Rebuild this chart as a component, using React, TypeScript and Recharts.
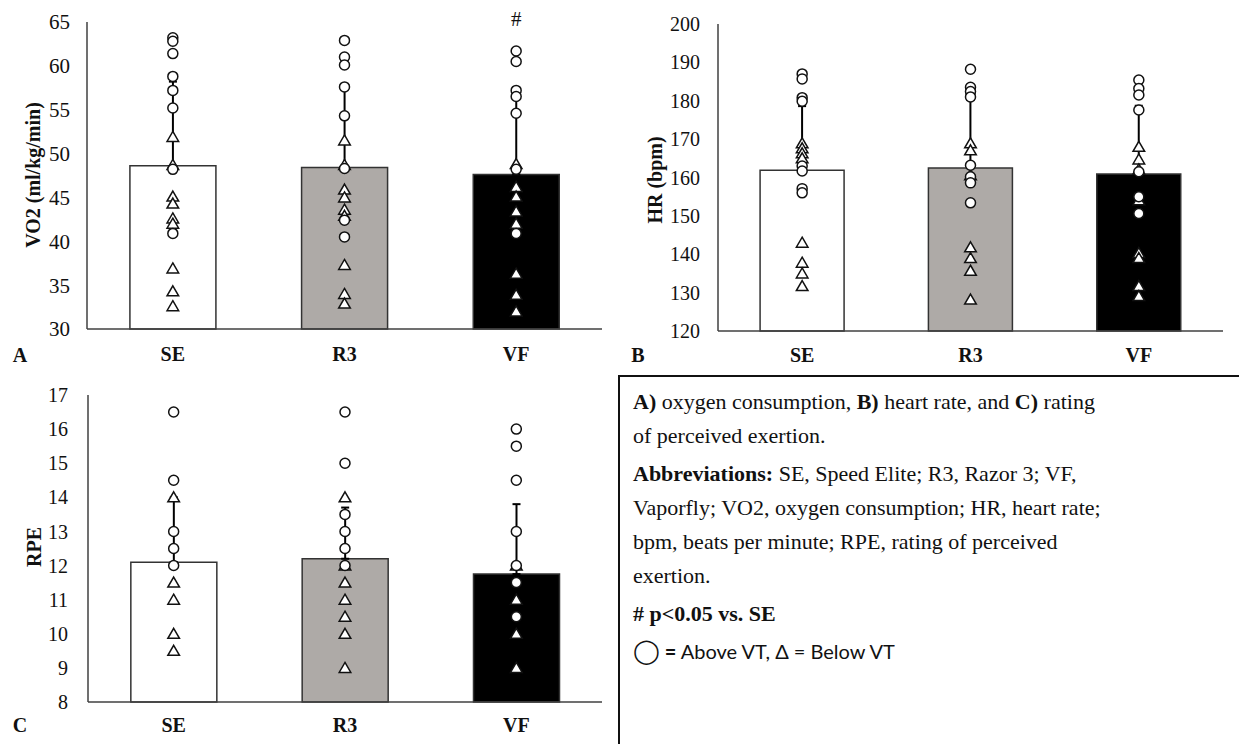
import React from 'react'
import {
  ComposedChart, Bar, Cell, ErrorBar, Scatter, XAxis, YAxis, ReferenceDot
} from 'recharts'

const categories = ['SE', 'R3', 'VF']
const barFills = ['#ffffff', '#aeaaa7', '#000000']

// A) VO2
const vo2Mean = [48.6, 48.4, 47.6]
const vo2Sd = [9.6, 9.2, 9.2]
const vo2Ticks = [30, 35, 40, 45, 50, 55, 60, 65]
const vo2Above = [
  [63.2, 62.8, 61.4, 58.8, 57.2, 55.2, 48.2, 40.9],
  [62.9, 61.0, 60.1, 57.6, 54.3, 48.3, 42.4, 40.5],
  [61.7, 60.5, 57.2, 56.5, 54.6, 48.2, 40.9],
]
const vo2Below = [
  [51.9, 48.7, 45.1, 44.3, 42.6, 42.0, 36.9, 34.3, 32.6],
  [51.5, 48.7, 45.9, 45.0, 43.6, 42.9, 37.3, 34.0, 32.9],
  [48.8, 46.2, 45.1, 43.4, 42.0, 36.3, 33.9, 32.0],
]
const vo2Sig = [{ cat: 'VF', y: 65.4, text: '#' }]

// B) HR
const hrMean = [161.9, 162.5, 160.9]
const hrSd = [16.7, 17.7, 17.8]
const hrTicks = [120, 130, 140, 150, 160, 170, 180, 190, 200]
const hrAbove = [
  [187.0, 185.7, 180.8, 179.9, 163.0, 161.7, 157.1, 156.0],
  [188.2, 183.5, 182.4, 181.0, 163.2, 160.2, 158.6, 153.4],
  [185.4, 183.2, 181.5, 177.6, 161.5, 155.0, 150.6],
]
const hrBelow = [
  [168.9, 167.6, 166.3, 165.0, 143.0, 137.8, 135.0, 131.7],
  [168.9, 167.1, 160.6, 141.8, 139.0, 135.7, 128.2],
  [168.0, 164.7, 162.1, 154.1, 140.3, 139.0, 131.7, 129.1],
]

// C) RPE
const rpeMean = [12.1, 12.2, 11.75]
const rpeSd = [1.9, 1.5, 2.05]
const rpeTicks = [8, 9, 10, 11, 12, 13, 14, 15, 16, 17]
const rpeAbove = [
  [16.5, 14.5, 13.0, 12.5, 12.0],
  [16.5, 15.0, 13.5, 13.0, 12.5, 12.0],
  [16.0, 15.5, 14.5, 13.0, 12.0, 11.5, 10.5],
]
const rpeBelow = [
  [14.0, 11.5, 11.0, 10.0, 9.5],
  [14.0, 12.0, 11.5, 11.0, 10.5, 10.0, 9.0],
  [12.0, 11.0, 10.0, 9.0],
]

const serif = '"Liberation Serif", "Times New Roman", serif'

const toBars = (mean: number[], sd: number[]) =>
  categories.map((cat, i) => ({ cat, mean: mean[i], err: [0, sd[i]] }))

const toPoints = (groups: number[][]) =>
  groups.flatMap((vals, i) => vals.map((v) => ({ cat: categories[i], v })))

const CircleDot = (p: any) => (
  <circle cx={p.cx} cy={p.cy} r={5} fill="#fff" stroke="#111" strokeWidth={1.5} />
)

const TriangleDot = (p: any) => {
  const { cx, cy } = p
  return (
    <path
      d={`M${cx},${cy - 5.5} L${cx + 5.8},${cy + 4.5} L${cx - 5.8},${cy + 4.5} Z`}
      fill="#fff"
      stroke="#111"
      strokeWidth={1.5}
    />
  )
}

function Panel(props: {
  width: number
  height: number
  margin: any
  yWidth: number
  yTickGap: number
  xTickGap: number
  tickFont: number
  domain: [number, number]
  ticks: number[]
  mean: number[]
  sd: number[]
  above: number[][]
  below: number[][]
  sig?: { cat: string; y: number; text: string }[]
}) {
  const bars = toBars(props.mean, props.sd)
  return (
    <ComposedChart
      width={props.width}
      height={props.height}
      data={bars}
      margin={props.margin}
      barCategoryGap="25%"
    >
      <XAxis
        dataKey="cat"
        type="category"
        allowDuplicatedCategory={false}
        tickLine={false}
        tickSize={0}
        tickMargin={props.xTickGap}
        height={30}
        axisLine={{ stroke: '#404040', strokeWidth: 1.5 }}
        tick={{ fontFamily: serif, fontWeight: 'bold', fontSize: 20, fill: '#111' }}
      />
      <YAxis
        type="number"
        domain={props.domain}
        ticks={props.ticks}
        interval={0}
        width={props.yWidth}
        tickLine={false}
        tickSize={0}
        tickMargin={props.yTickGap}
        axisLine={{ stroke: '#404040', strokeWidth: 1.5 }}
        tick={{ fontFamily: serif, fontSize: props.tickFont, fill: '#111' }}
      />
      <Bar dataKey="mean" stroke="#333" strokeWidth={1.5} isAnimationActive={false}>
        {bars.map((b, i) => (
          <Cell key={b.cat} fill={barFills[i]} />
        ))}
        <ErrorBar dataKey="err" direction="y" width={4} stroke="#000" strokeWidth={2} />
      </Bar>
      <Scatter
        data={toPoints(props.below)}
        dataKey="v"
        shape={TriangleDot}
        isAnimationActive={false}
      />
      <Scatter
        data={toPoints(props.above)}
        dataKey="v"
        shape={CircleDot}
        isAnimationActive={false}
      />
      {(props.sig || []).map((s) => (
        <ReferenceDot
          key={s.cat}
          x={s.cat}
          y={s.y}
          r={0}
          fill="none"
          stroke="none"
          ifOverflow="visible"
          label={{ value: s.text, position: 'center', fontFamily: serif, fontSize: 21, fill: '#111' }}
        />
      ))}
    </ComposedChart>
  )
}

const abs = (left: number, top: number): React.CSSProperties => ({
  position: 'absolute',
  left,
  top,
})

const rotLabel = (x: number, y: number): React.CSSProperties => ({
  position: 'absolute',
  left: x,
  top: y,
  transform: 'translate(-50%, -50%) rotate(-90deg)',
  whiteSpace: 'nowrap',
  fontFamily: serif,
  fontWeight: 'bold',
  fontSize: 20,
  color: '#111',
  lineHeight: 1,
})

const letter = (x: number, y: number): React.CSSProperties => ({
  position: 'absolute',
  left: x,
  top: y,
  transform: 'translate(-50%, -50%)',
  fontFamily: serif,
  fontWeight: 'bold',
  fontSize: 20,
  color: '#111',
  lineHeight: 1,
})

export default function App() {
  return (
    <div
      style={{
        position: 'absolute',
        left: 0,
        top: 0,
        width: 1239,
        height: 744,
        overflow: 'hidden',
        background: '#fff',
      }}
    >
      <div style={abs(0, 0)}>
        <Panel
          width={610}
          height={370}
          margin={{ top: 22, right: 8, bottom: 11, left: 0 }}
          yWidth={87}
          yTickGap={17}
          xTickGap={18}
          tickFont={21}
          domain={[30, 65]}
          ticks={vo2Ticks}
          mean={vo2Mean}
          sd={vo2Sd}
          above={vo2Above}
          below={vo2Below}
          sig={vo2Sig}
        />
      </div>
      <div style={abs(620, 0)}>
        <Panel
          width={619}
          height={370}
          margin={{ top: 24, right: 16, bottom: 9, left: 0 }}
          yWidth={98}
          yTickGap={18}
          xTickGap={17}
          tickFont={20}
          domain={[120, 200]}
          ticks={hrTicks}
          mean={hrMean}
          sd={hrSd}
          above={hrAbove}
          below={hrBelow}
        />
      </div>
      <div style={abs(0, 370)}>
        <Panel
          width={610}
          height={374}
          margin={{ top: 25, right: 8, bottom: 12, left: 0 }}
          yWidth={88}
          yTickGap={20}
          xTickGap={16}
          tickFont={20}
          domain={[8, 17]}
          ticks={rpeTicks}
          mean={rpeMean}
          sd={rpeSd}
          above={rpeAbove}
          below={rpeBelow}
        />
      </div>

      <div style={rotLabel(33, 175)}>VO2 (ml/kg/min)</div>
      <div style={rotLabel(655, 180)}>HR (bpm)</div>
      <div style={rotLabel(34, 547)}>RPE</div>

      <div style={letter(20, 355)}>A</div>
      <div style={letter(638, 355)}>B</div>
      <div style={letter(20, 725)}>C</div>

      <div
        style={{
          position: 'absolute',
          left: 618,
          top: 375,
          width: 660,
          height: 420,
          border: '2px solid #111',
          boxSizing: 'border-box',
          padding: '8px 0 0 13px',
          fontFamily: serif,
          fontSize: 22,
          lineHeight: '34px',
          color: '#111',
          whiteSpace: 'nowrap',
        }}
      >
        <div>
          <b>A)</b> oxygen consumption, <b>B)</b> heart rate, and <b>C)</b> rating
          <br />
          of perceived exertion.
        </div>
        <div style={{ marginTop: 4 }}>
          <b>Abbreviations:</b> SE, Speed Elite; R3, Razor 3; VF,
          <br />
          Vaporfly; VO2, oxygen consumption; HR, heart rate;
          <br />
          bpm, beats per minute; RPE, rating of perceived
          <br />
          exertion.
        </div>
        <div style={{ marginTop: 4, fontWeight: 'bold' }}># p&lt;0.05 vs. SE</div>
        <div style={{ marginTop: 3, fontFamily: 'Lato, "Open Sans", sans-serif', fontSize: 20 }}>
          <span style={{ fontFamily: '"DejaVu Sans", sans-serif', fontSize: 24 }}>◯</span>
          <b> =</b> Above VT, Δ = Below VT
        </div>
      </div>
    </div>
  )
}
